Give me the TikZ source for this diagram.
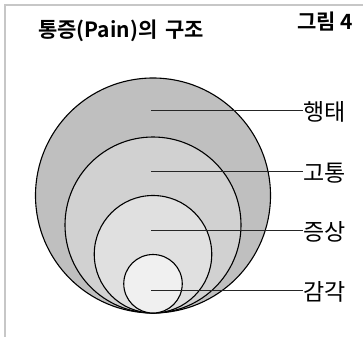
\documentclass[tikz,border=0pt]{standalone}
\usepackage{fontspec}
\newfontfamily\krsans{Noto Sans CJK KR}
\newfontfamily\krsansb{Noto Sans CJK KR Bold}
\begin{document}
\begin{tikzpicture}[x=1pt,y=-1pt,
  ring/.style={circle,draw=black,line width=1.1pt,inner sep=0pt},
  lbl/.style={anchor=west,inner sep=0pt,font=\krsans\fontsize{23}{23}\selectfont},
  leader/.style={draw=black!85,line width=0.9pt},
  frameline/.style={draw=black!22,line width=1.4pt},
  ttl/.style={inner sep=0pt,font=\krsansb\fontsize{21}{21}\selectfont}]
\useasboundingbox (0,0) rectangle (363,337);
\draw[frameline] (363,5) -- (5,5) -- (5,337);
\node[ttl,anchor=west] (title) at (38,31) {통증(Pain)의\hspace{3pt} 구조};
\node[ttl,anchor=east] (fig) at (353,22) {그림 4};
\node[ring,fill=black!25,minimum size=235pt] (c1) at (153,195.5) {};
\node[ring,fill=black!18,minimum size=176pt] (c2) at (153,225) {};
\node[ring,fill=black!12,minimum size=117.5pt] (c3) at (153,254.25) {};
\node[ring,fill=black!6,minimum size=58.5pt] (c4) at (153,283.75) {};
\node[lbl] (l1) at (303,112) {행태};
\node[lbl] (l2) at (303,173) {고통};
\node[lbl] (l3) at (303,232) {증상};
\node[lbl] (l4) at (303,292) {감각};
\coordinate (p1) at (151,110);
\coordinate (p2) at (151,171);
\coordinate (p3) at (151,230);
\coordinate (p4) at (151,290);
\draw[leader] (p1) -- (l1.west |- p1);
\draw[leader] (p2) -- (l2.west |- p2);
\draw[leader] (p3) -- (l3.west |- p3);
\draw[leader] (p4) -- (l4.west |- p4);
\end{tikzpicture}
\end{document}
